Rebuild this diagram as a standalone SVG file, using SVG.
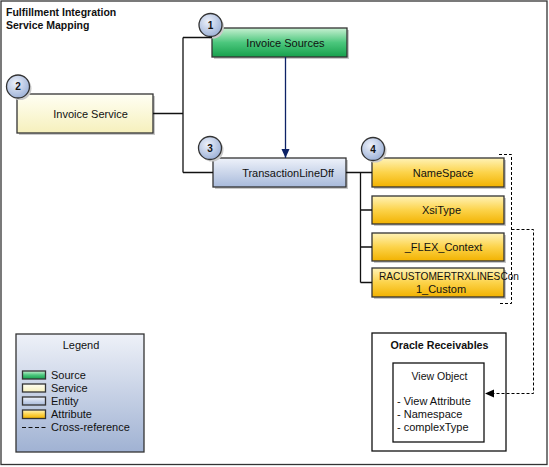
<svg xmlns="http://www.w3.org/2000/svg" width="549" height="467" viewBox="0 0 549 467">
<style>
text{font-family:"Liberation Sans",Arial,sans-serif;fill:#111}
.lbl{font-size:11px;text-anchor:middle}
.num{font-size:10px;font-weight:bold;text-anchor:middle}
.box{stroke:#333;stroke-width:1.3}
.sh{fill:#c9c9c9}
.ln{fill:none;stroke:#111;stroke-width:1.3}
.dash{fill:none;stroke:#000;stroke-width:1;stroke-dasharray:3,2}
.leg{font-size:11px}
.circ{fill:url(#gC);stroke:#333;stroke-width:1.3}
</style>
<defs>
<linearGradient id="gGreen" x1="0" y1="0" x2="0" y2="1"><stop offset="0" stop-color="#c8f0d2"/><stop offset="0.5" stop-color="#4cc77d"/><stop offset="1" stop-color="#16a04c"/></linearGradient>
<linearGradient id="gYel" x1="0" y1="0" x2="0" y2="1"><stop offset="0" stop-color="#fffff4"/><stop offset="1" stop-color="#f6f0bc"/></linearGradient>
<linearGradient id="gBlue" x1="0" y1="0" x2="0" y2="1"><stop offset="0" stop-color="#eef2fa"/><stop offset="1" stop-color="#a8badb"/></linearGradient>
<linearGradient id="gOr" x1="0" y1="0" x2="0" y2="1"><stop offset="0" stop-color="#fff3b8"/><stop offset="0.5" stop-color="#fcd34a"/><stop offset="1" stop-color="#f2b200"/></linearGradient>
<linearGradient id="gLeg" x1="0" y1="0" x2="0" y2="1"><stop offset="0" stop-color="#eef1f8"/><stop offset="1" stop-color="#a0b2d3"/></linearGradient>
<radialGradient id="gC" cx="0.4" cy="0.35" r="0.7"><stop offset="0" stop-color="#edf1fa"/><stop offset="1" stop-color="#9aafd6"/></radialGradient>
<marker id="aBlue" markerWidth="10" markerHeight="10" refX="9" refY="5" orient="auto" markerUnits="userSpaceOnUse"><path d="M0,1 L9,5 L0,9 Z" fill="#0d2266"/></marker>
<marker id="aBlk" markerWidth="10" markerHeight="10" refX="9" refY="5" orient="auto" markerUnits="userSpaceOnUse"><path d="M0,1 L9,5 L0,9 Z" fill="#000"/></marker>
</defs>
<rect x="0" y="0" width="549" height="467" fill="#fff"/>
<rect x="1" y="1" width="546" height="463.5" fill="#fff" stroke="#333" stroke-width="1.3"/>
<text x="6" y="16" style="font-size:10.5px;font-weight:bold">Fulfillment Integration</text>
<text x="6" y="29" style="font-size:10.5px;font-weight:bold">Service Mapping</text>

<g id="invoice-sources">
<rect class="sh" x="214" y="30" width="135" height="29"/>
<rect class="box" x="212" y="28" width="135" height="29" fill="url(#gGreen)"/>
<text class="lbl" x="285.5" y="46.5">Invoice Sources</text>
<circle class="sh" cx="212.5" cy="27" r="11.5"/>
<circle class="circ" cx="210.5" cy="25" r="11.5"/>
<text class="num" x="210.5" y="28.5">1</text>
</g>

<g id="invoice-service">
<rect class="sh" x="19" y="96" width="136" height="39"/>
<rect class="box" x="17" y="94" width="136" height="39" fill="url(#gYel)"/>
<text class="lbl" x="90.5" y="117.5">Invoice Service</text>
<circle class="sh" cx="20" cy="88.5" r="11.5"/>
<circle class="circ" cx="18" cy="86.5" r="11.5"/>
<text class="num" x="18" y="90">2</text>
</g>

<g id="transaction-line-dff">
<rect class="sh" x="215" y="160" width="133" height="29"/>
<rect class="box" x="213" y="158" width="133" height="29" fill="url(#gBlue)"/>
<text class="lbl" x="288" y="176.5">TransactionLineDff</text>
<circle class="sh" cx="212" cy="150" r="11.5"/>
<circle class="circ" cx="210" cy="148" r="11.5"/>
<text class="num" x="210" y="151.5">3</text>
</g>

<g id="namespace">
<rect class="sh" x="374" y="160" width="132" height="29"/>
<rect class="box" x="372" y="158" width="132" height="29" fill="url(#gOr)"/>
<text class="lbl" x="443" y="176.5">NameSpace</text>
<circle class="sh" cx="375" cy="151" r="11.5"/>
<circle class="circ" cx="373" cy="149" r="11.5"/>
<text class="num" x="373" y="152.5">4</text>
</g>

<g id="xsitype">
<rect class="sh" x="374" y="198" width="132" height="28"/>
<rect class="box" x="372" y="196" width="132" height="28" fill="url(#gOr)"/>
<text class="lbl" x="441.5" y="214">XsiType</text>
</g>

<g id="flex-context">
<rect class="sh" x="374" y="235" width="132" height="28"/>
<rect class="box" x="372" y="233" width="132" height="28" fill="url(#gOr)"/>
<text class="lbl" x="443.5" y="251">_FLEX_Context</text>
</g>

<g id="racustomer">
<rect class="sh" x="374" y="270" width="132" height="29"/>
<rect class="box" x="372" y="268" width="132" height="29" fill="url(#gOr)"/>
<text style="font-size:11px" x="379" y="280" textLength="140" lengthAdjust="spacingAndGlyphs">RACUSTOMERTRXLINESCon</text>
<text class="lbl" x="441" y="293">1_Custom</text>
</g>

<g id="legend">
<rect x="16" y="334" width="128" height="118" fill="url(#gLeg)" stroke="#333" stroke-width="1.3"/>
<text class="leg" x="81" y="349" text-anchor="middle">Legend</text>
<rect class="box" x="22.5" y="371" width="23" height="8" fill="url(#gGreen)"/>
<rect class="box" x="22.5" y="384" width="23" height="8" fill="url(#gYel)"/>
<rect class="box" x="22.5" y="397" width="23" height="8" fill="url(#gBlue)"/>
<rect class="box" x="22.5" y="410" width="23" height="8.5" fill="url(#gOr)"/>
<line x1="22" y1="427.5" x2="46" y2="427.5" stroke="#111" stroke-width="1" stroke-dasharray="4,2.5"/>
<text class="leg" x="51" y="378.5">Source</text>
<text class="leg" x="51" y="391.5">Service</text>
<text class="leg" x="51" y="404.5">Entity</text>
<text class="leg" x="51" y="417.5">Attribute</text>
<text class="leg" x="51" y="430.5">Cross-reference</text>
</g>

<g id="oracle-receivables">
<rect x="372" y="333" width="134" height="118" fill="#fff" stroke="#111" stroke-width="1.3"/>
<text x="439.5" y="348.5" text-anchor="middle" style="font-size:10.7px;font-weight:bold">Oracle Receivables</text>
<g id="view-object">
<rect x="393" y="363" width="91" height="79" fill="#fff" stroke="#111" stroke-width="1.3"/>
<text class="leg" x="439.5" y="380" text-anchor="middle" textLength="56" lengthAdjust="spacingAndGlyphs">View Object</text>
<text class="leg" x="397" y="404.5">- View Attribute</text>
<text class="leg" x="397" y="417.5">- Namespace</text>
<text class="leg" x="397" y="430.5">- complexType</text>
</g>
</g>

<g id="connectors">
<path class="ln" d="M153,113.5 H183 M183,37.5 V172.5 M183,37.5 H212 M183,172.5 H213"/>
<path class="ln" d="M346,172.5 H372 M360.5,172.5 V282.5 M360.5,210 H372 M360.5,247 H372 M360.5,282.5 H372"/>
<line x1="285.5" y1="57" x2="285.5" y2="158" stroke="#0d2266" stroke-width="1.3" marker-end="url(#aBlue)"/>
<path class="dash" d="M499,154.5 H511.5 V303.5 H499"/>
<path class="dash" d="M511.5,229.5 H533.5 V393.5 H485" marker-end="url(#aBlk)"/>
</g>
</svg>
